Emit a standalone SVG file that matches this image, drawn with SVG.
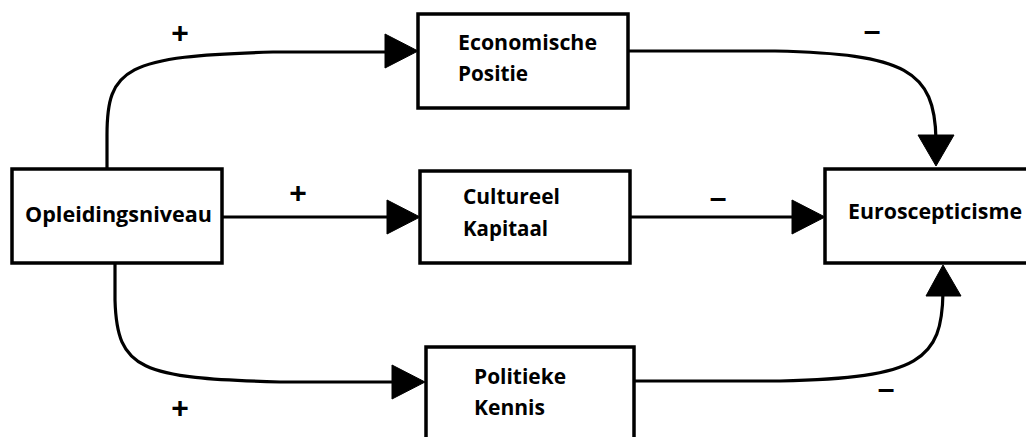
<svg xmlns="http://www.w3.org/2000/svg" width="1026" height="437" viewBox="0 0 1026 437">
<style>
.box{fill:#fff;stroke:#000;stroke-width:3.5}
.lbl{font-family:"Open Sans","Liberation Sans",sans-serif;font-weight:bold;font-size:20.5px;fill:#000}
.sign{font-family:"Liberation Sans",sans-serif;font-weight:bold;font-size:30px;fill:#000;text-anchor:middle}
.edge{fill:none;stroke:#000;stroke-width:3.2}
.head{fill:#000;stroke:#000;stroke-width:1;stroke-linejoin:round}
</style>
<rect width="1026" height="437" fill="#fff"/>
<g id="connectors">
  <path class="edge" d="M107,169 L107,135 C107,68 125,56 273,52 L390,52"/>
  <polygon class="head" points="385,34 418,51 385,68"/>
  <path class="edge" d="M222,217 L392,217"/>
  <polygon class="head" points="387,200 420,217 387,234"/>
  <path class="edge" d="M115,263 L115,300 C117,370 140,378 280,382 L400,382"/>
  <polygon class="head" points="392,365 425,382 392,399"/>
  <path class="edge" d="M628,51 L775,51 C905,54 935,70 936,140"/>
  <polygon class="head" points="918,135 936,166 954,135"/>
  <path class="edge" d="M630,217 L797,217"/>
  <polygon class="head" points="792,200 825,217 792,234"/>
  <path class="edge" d="M635,381 L780,381 C920,378 942,360 943,292"/>
  <polygon class="head" points="926,296 943,265 961,296"/>
  <text class="sign" x="180" y="43">+</text>
  <text class="sign" x="298" y="203">+</text>
  <text class="sign" x="180" y="418">+</text>
  <text class="sign" x="872" y="41">–</text>
  <text class="sign" x="718" y="208">–</text>
  <text class="sign" x="886" y="399">–</text>
</g>
<g id="opleidingsniveau">
  <rect class="box" x="12" y="169" width="210" height="94"/>
  <text class="lbl" x="25" y="222" textLength="187" lengthAdjust="spacingAndGlyphs">Opleidingsniveau</text>
</g>
<g id="economische-positie">
  <rect class="box" x="418" y="14" width="210" height="94"/>
  <text class="lbl" x="458" y="50" textLength="139" lengthAdjust="spacingAndGlyphs">Economische</text>
  <text class="lbl" x="458" y="81" textLength="70" lengthAdjust="spacingAndGlyphs">Positie</text>
</g>
<g id="cultureel-kapitaal">
  <rect class="box" x="420" y="171" width="210" height="92"/>
  <text class="lbl" x="463" y="204" textLength="97" lengthAdjust="spacingAndGlyphs">Cultureel</text>
  <text class="lbl" x="463" y="236" textLength="85" lengthAdjust="spacingAndGlyphs">Kapitaal</text>
</g>
<g id="politieke-kennis">
  <rect class="box" x="426" y="347" width="208" height="100"/>
  <text class="lbl" x="474" y="384" textLength="92" lengthAdjust="spacingAndGlyphs">Politieke</text>
  <text class="lbl" x="474" y="415" textLength="71" lengthAdjust="spacingAndGlyphs">Kennis</text>
</g>
<g id="euroscepticisme">
  <rect class="box" x="825" y="169" width="210" height="94"/>
  <text class="lbl" x="848" y="219" textLength="174" lengthAdjust="spacingAndGlyphs">Euroscepticisme</text>
</g>
</svg>
